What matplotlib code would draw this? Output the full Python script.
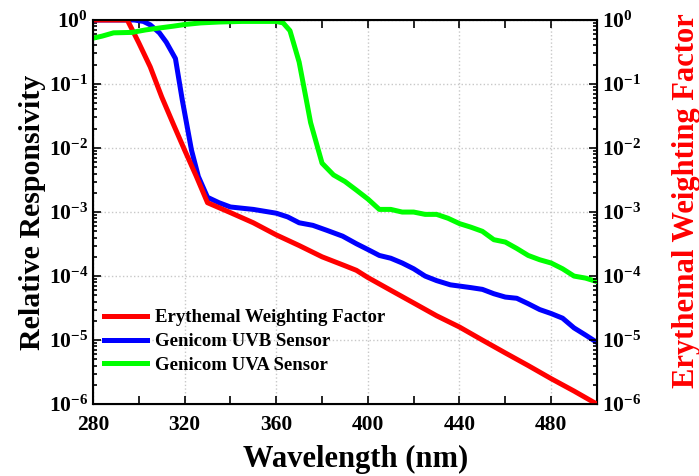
import matplotlib
matplotlib.use('Agg')
import matplotlib.pyplot as plt
from matplotlib.ticker import FuncFormatter, MultipleLocator, LogLocator, NullFormatter
import numpy as np

plt.rcParams['font.family'] = 'Liberation Serif'
plt.rcParams['font.weight'] = 'bold'
plt.rcParams['mathtext.fontset'] = 'custom'
plt.rcParams['mathtext.rm'] = 'Liberation Serif:bold'
plt.rcParams['mathtext.bf'] = 'Liberation Serif:bold'

# erythemal weighting factor
wl_ery = [280, 295, 300, 305, 310, 315, 320, 325, 330, 340, 350, 360, 370, 380,
          390, 395, 400, 410, 420, 430, 440, 450, 460, 470, 480, 490, 500]
ery = [1.0, 1.0, 0.44, 0.185, 0.063, 0.024, 0.0093, 0.0037, 0.0014, 9.8e-4, 6.8e-4,
       4.4e-4, 3.0e-4, 2.0e-4, 1.45e-4, 1.23e-4, 9.5e-5, 6.0e-5, 3.8e-5, 2.4e-5,
       1.6e-5, 1.0e-5, 6.3e-6, 4.0e-6, 2.5e-6, 1.6e-6, 1.0e-6]

# Genicom UVB sensor
wl_uvb = [280, 298, 302, 305, 309, 312, 316, 319, 323, 326, 330, 335, 340, 350, 360,
          365, 370, 376, 382, 389, 395, 400, 405, 410, 415, 420, 425, 430, 436, 445,
          450, 455, 460, 465, 470, 475, 480, 485, 490, 495, 500]
uvb = [1.0, 1.0, 0.95, 0.84, 0.63, 0.45, 0.25, 0.056, 0.0093, 0.0036, 0.0017, 0.0014,
       0.0012, 0.0011, 9.6e-4, 8.4e-4, 6.8e-4, 6.2e-4, 5.2e-4, 4.2e-4, 3.2e-4, 2.6e-4,
       2.1e-4, 1.9e-4, 1.6e-4, 1.3e-4, 1.0e-4, 8.5e-5, 7.3e-5, 6.6e-5, 6.2e-5, 5.3e-5,
       4.7e-5, 4.5e-5, 3.7e-5, 3.0e-5, 2.6e-5, 2.2e-5, 1.55e-5, 1.2e-5, 9.2e-6]

# Genicom UVA sensor
wl_uva = [280, 284, 289, 297, 303, 309, 315, 320, 327, 335, 345, 360, 363, 366, 370,
          373, 375, 380, 385, 390, 395, 400, 405, 410, 415, 420, 425, 430, 435, 440,
          445, 450, 455, 460, 465, 470, 475, 480, 485, 490, 495, 500]
uva = [0.52, 0.56, 0.63, 0.64, 0.70, 0.75, 0.80, 0.85, 0.90, 0.93, 0.95, 0.95, 0.90,
       0.68, 0.22, 0.06, 0.025, 0.0058, 0.0038, 0.0030, 0.0022, 0.0016, 0.0011, 0.0011,
       0.0010, 0.0010, 9.2e-4, 9.2e-4, 8.0e-4, 6.6e-4, 5.8e-4, 5.0e-4, 3.7e-4, 3.4e-4,
       2.7e-4, 2.1e-4, 1.8e-4, 1.6e-4, 1.3e-4, 1.0e-4, 9.3e-5, 8.2e-5]

fig = plt.figure(figsize=(6.99, 4.76), dpi=100)
ax = fig.add_axes([0.133, 0.151, 0.721, 0.807])

ax.plot(wl_ery, ery, color='#ff0000', lw=3.6, label='Erythemal Weighting Factor', zorder=3)
ax.plot(wl_uvb, uvb, color='#0000ff', lw=3.6, label='Genicom UVB Sensor', zorder=2)
ax.plot(wl_uva, uva, color='#00ff00', lw=3.6, label='Genicom UVA Sensor', zorder=4)

ax.set_yscale('log')
ax.set_xlim(280, 500)
ax.set_ylim(1e-6, 1)

fmt = FuncFormatter(lambda v, p: r'$\mathbf{10^{%d}}$' % round(np.log10(v)))
ax.yaxis.set_major_locator(LogLocator(base=10, numticks=10))
ax.yaxis.set_major_formatter(fmt)
ax.yaxis.set_minor_formatter(NullFormatter())
ax.xaxis.set_major_locator(MultipleLocator(40))
ax.xaxis.set_minor_locator(MultipleLocator(20))

ax.grid(True, which='major', color='#c8c8c8', linestyle=':', lw=1)
ax.tick_params(which='both', direction='in', top=True, labelsize=15.5, width=1.2)
ax.tick_params(which='major', length=6)
ax.tick_params(axis='x', which='both', pad=8)
ax.tick_params(axis='x', which='minor', length=6)
ax.tick_params(axis='y', which='minor', length=3)
for s in ax.spines.values():
    s.set_linewidth(1.5)

ax.set_xlabel('Wavelength (nm)', fontsize=22, fontweight='bold')
ax.xaxis.set_label_coords(0.522, -0.105)
ax.set_ylabel('Relative Responsivity', fontsize=21.5, fontweight='bold', labelpad=2)

ax2 = ax.twinx()
ax2.set_yscale('log')
ax2.set_ylim(1e-6, 1)
ax2.yaxis.set_major_locator(LogLocator(base=10, numticks=10))
ax2.yaxis.set_major_formatter(fmt)
ax2.yaxis.set_minor_formatter(NullFormatter())
ax2.tick_params(which='both', direction='in', labelsize=15.5, width=1.2)
ax2.tick_params(which='major', length=6)
ax2.tick_params(which='minor', length=3)
ax2.set_ylabel('Erythemal Weighting Factor', fontsize=22, fontweight='bold',
               color='#ff0000')
ax2.yaxis.set_label_coords(1.148, 0.53)

leg = ax.legend(loc='lower left', bbox_to_anchor=(-0.012, 0.035), frameon=False,
                prop={'family': 'Liberation Serif', 'weight': 'bold', 'size': 13.5},
                handlelength=2.3, labelspacing=0.35, handletextpad=0.45)

fig.savefig('out.png', dpi=100)
